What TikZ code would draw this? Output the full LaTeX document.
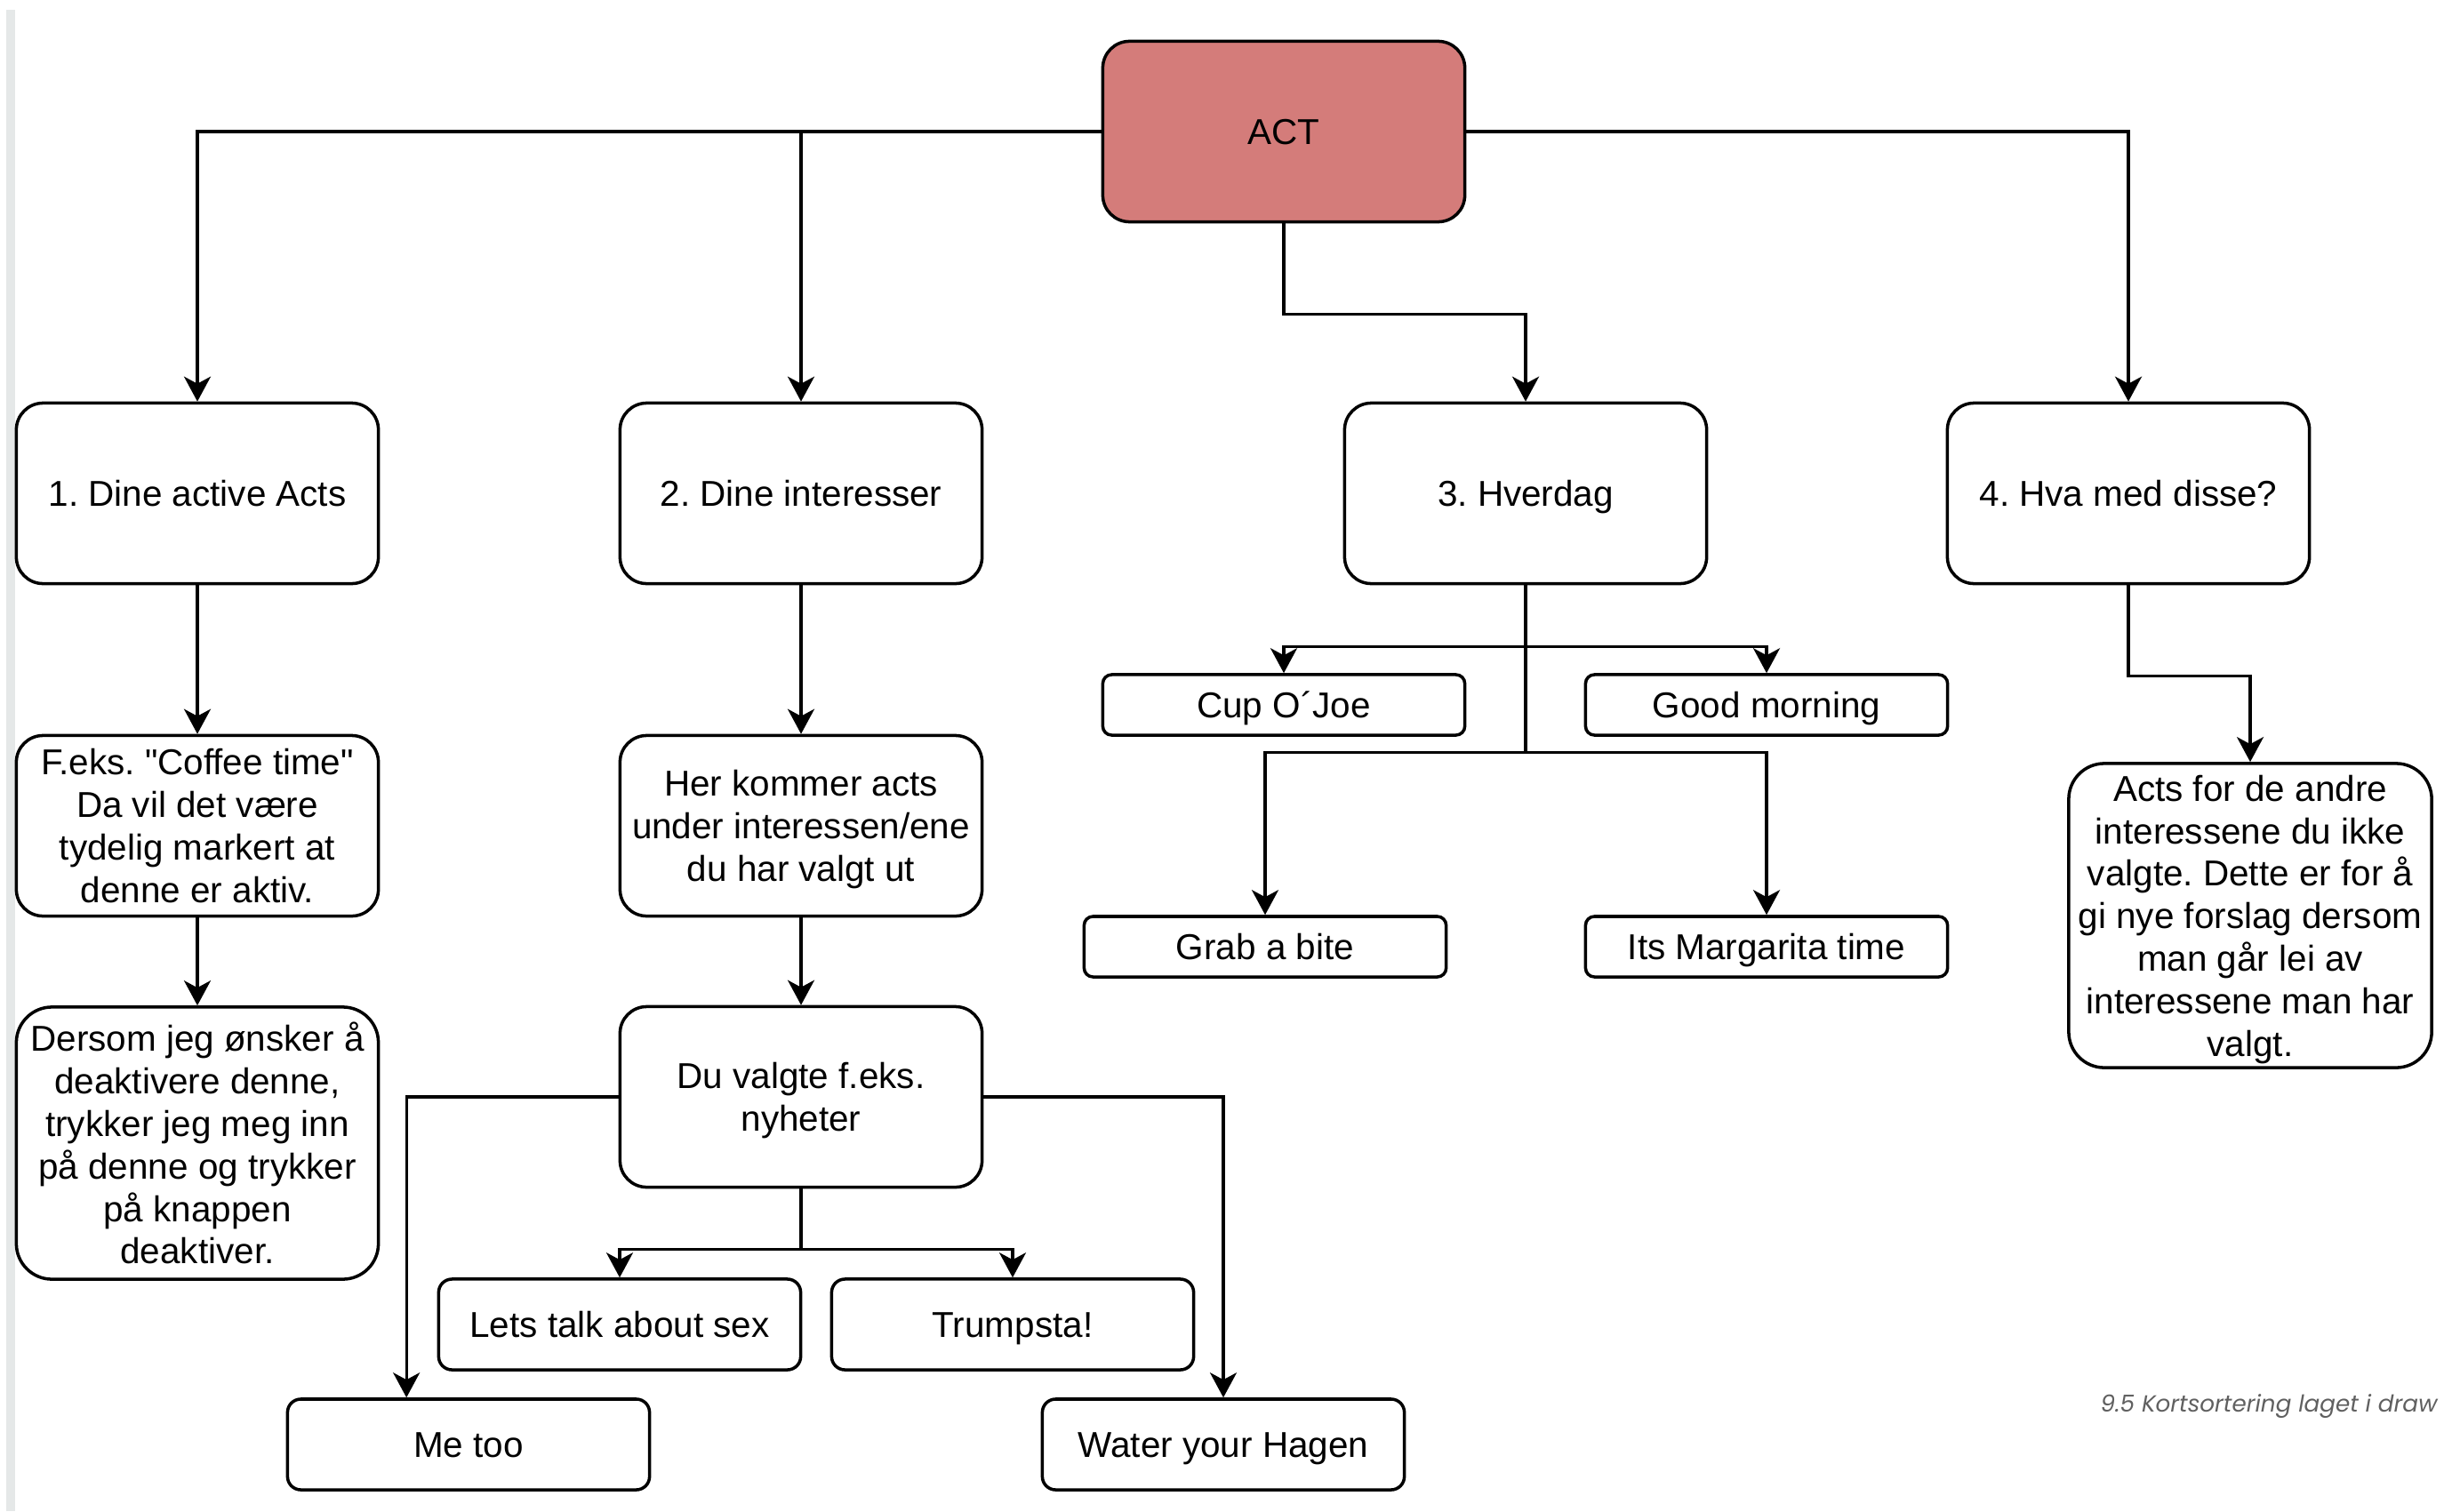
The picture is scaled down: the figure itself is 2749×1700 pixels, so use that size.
\documentclass[tikz,border=0pt]{standalone}
\usepackage{fontspec}
\setmainfont{Liberation Sans}[Ligatures=TeXOff]
\newfontfamily\notefont{Poppins}
\usepackage{xcolor}
\definecolor{actfill}{RGB}{212, 124, 122}
\definecolor{notegray}{RGB}{96, 96, 96}
\definecolor{edgegray}{RGB}{229, 232, 232}
\usetikzlibrary{arrows.meta,calc}
\frenchspacing

\begin{document}
\begin{tikzpicture}[x=0.01cm, y=-0.01cm, >={Stealth[length=2.8mm, width=3mm, inset=0.8mm]},
    every node/.style={font=\fontsize{11.5}{13.6}\selectfont, align=center, inner sep=0pt},
    card/.style={draw, line width=1pt, rounded corners=0.3cm, fill=white,
        minimum width=4.07cm, minimum height=2.03cm},
    tallcard/.style={card, rounded corners=0.4cm},
    oneline/.style={text height=8.3pt, text depth=0pt},
    lines/.style={text depth=0pt},
    slim/.style={card, oneline, rounded corners=0.15cm, minimum height=1.02cm},
    tag/.style={card, oneline, rounded corners=0.1cm, minimum height=0.68cm},
    arr/.style={->, line width=0.9pt}]
    \clip[use as bounding box] (0,0) rectangle (2749,1700);
    \fill[edgegray] (7,11) rectangle (17,1700);

    % Top node
    \node[card, oneline, fill=actfill] (act) at (1444,148) {ACT};

    % Main categories
    \node[card, oneline] (dine) at (222,555) {1. Dine active Acts};
    \node[card, oneline] (interesser) at (901,555) {2. Dine interesser};
    \node[card, oneline] (hverdag) at (1716,555) {3. Hverdag};
    \node[card, oneline] (disse) at (2394,555) {4. Hva med disse?};

    \draw[arr] (act.west) -| (dine.north);
    \draw[arr] (act.west) -| (interesser.north);
    \draw[arr] (act.east) -| (disse.north);
    \draw[arr] (act.south) -- ++(0,102) -| (hverdag.north);

    % 1. active acts
    \node[card, lines] (coffee) at (222,929) {F.eks. "Coffee time"\\Da vil det være\\tydelig markert at\\denne er aktiv.};
    \node[tallcard, lines, minimum height=3.06cm] (deakt) at (222,1286) {Dersom jeg ønsker å\\deaktivere denne,\\trykker jeg meg inn\\på denne og trykker\\på knappen\\deaktiver.};
    \draw[arr] (dine.south) -- (coffee.north);
    \draw[arr] (coffee.south) -- (deakt.north);

    % 2. interests
    \node[card, lines] (kommer) at (901,929) {Her kommer acts\\under interessen/ene\\du har valgt ut};
    \node[card, lines] (nyheter) at (901,1234) {Du valgte f.eks.\\nyheter};
    \node[slim] (sex) at (697,1490) {Lets talk about sex};
    \node[slim] (trump) at (1139,1490) {Trumpsta!};
    \node[slim] (metoo) at (527,1625) {Me too};
    \node[slim] (hagen) at (1376,1625) {Water your Hagen};
    \draw[arr] (interesser.south) -- (kommer.north);
    \draw[arr] (kommer.south) -- (nyheter.north);
    \draw[arr] (nyheter.south) -- ++(0,68) -| (sex.north);
    \draw[arr] (nyheter.south) -- ++(0,68) -| (trump.north);
    \draw[arr] (nyheter.west) -| ($(metoo.north west)!0.33!(metoo.north east)$);
    \draw[arr] (nyheter.east) -| (hagen.north);

    % 3. everyday
    \node[tag] (cup) at (1444,793) {Cup O´Joe};
    \node[tag] (morning) at (1987,793) {Good morning};
    \node[tag] (bite) at (1423,1065) {Grab a bite};
    \node[tag] (margarita) at (1987,1065) {Its Margarita time};
    \draw[arr] (hverdag.south) -- ++(0,69) -| (cup.north);
    \draw[arr] (hverdag.south) -- ++(0,69) -| (morning.north);
    \draw[arr] (hverdag.south) -- ++(0,188) -| (bite.north);
    \draw[arr] (hverdag.south) -- ++(0,188) -| (margarita.north);

    % 4. other suggestions
    \node[tallcard, lines, minimum width=4.08cm, minimum height=3.42cm] (andre) at (2531,1030) {Acts for de andre\\interessene du ikke\\valgte. Dette er for å\\gi nye forslag dersom\\man går lei av\\interessene man har\\valgt.};
    \draw[arr] (disse.south) -- ++(0,102) -| (andre.north);

    \node[font=\notefont\itshape\fontsize{7.45}{9}\selectfont, text=notegray, anchor=base west] (note) at (2362,1588) {9.5 Kortsortering laget i draw};
\end{tikzpicture}
\end{document}
